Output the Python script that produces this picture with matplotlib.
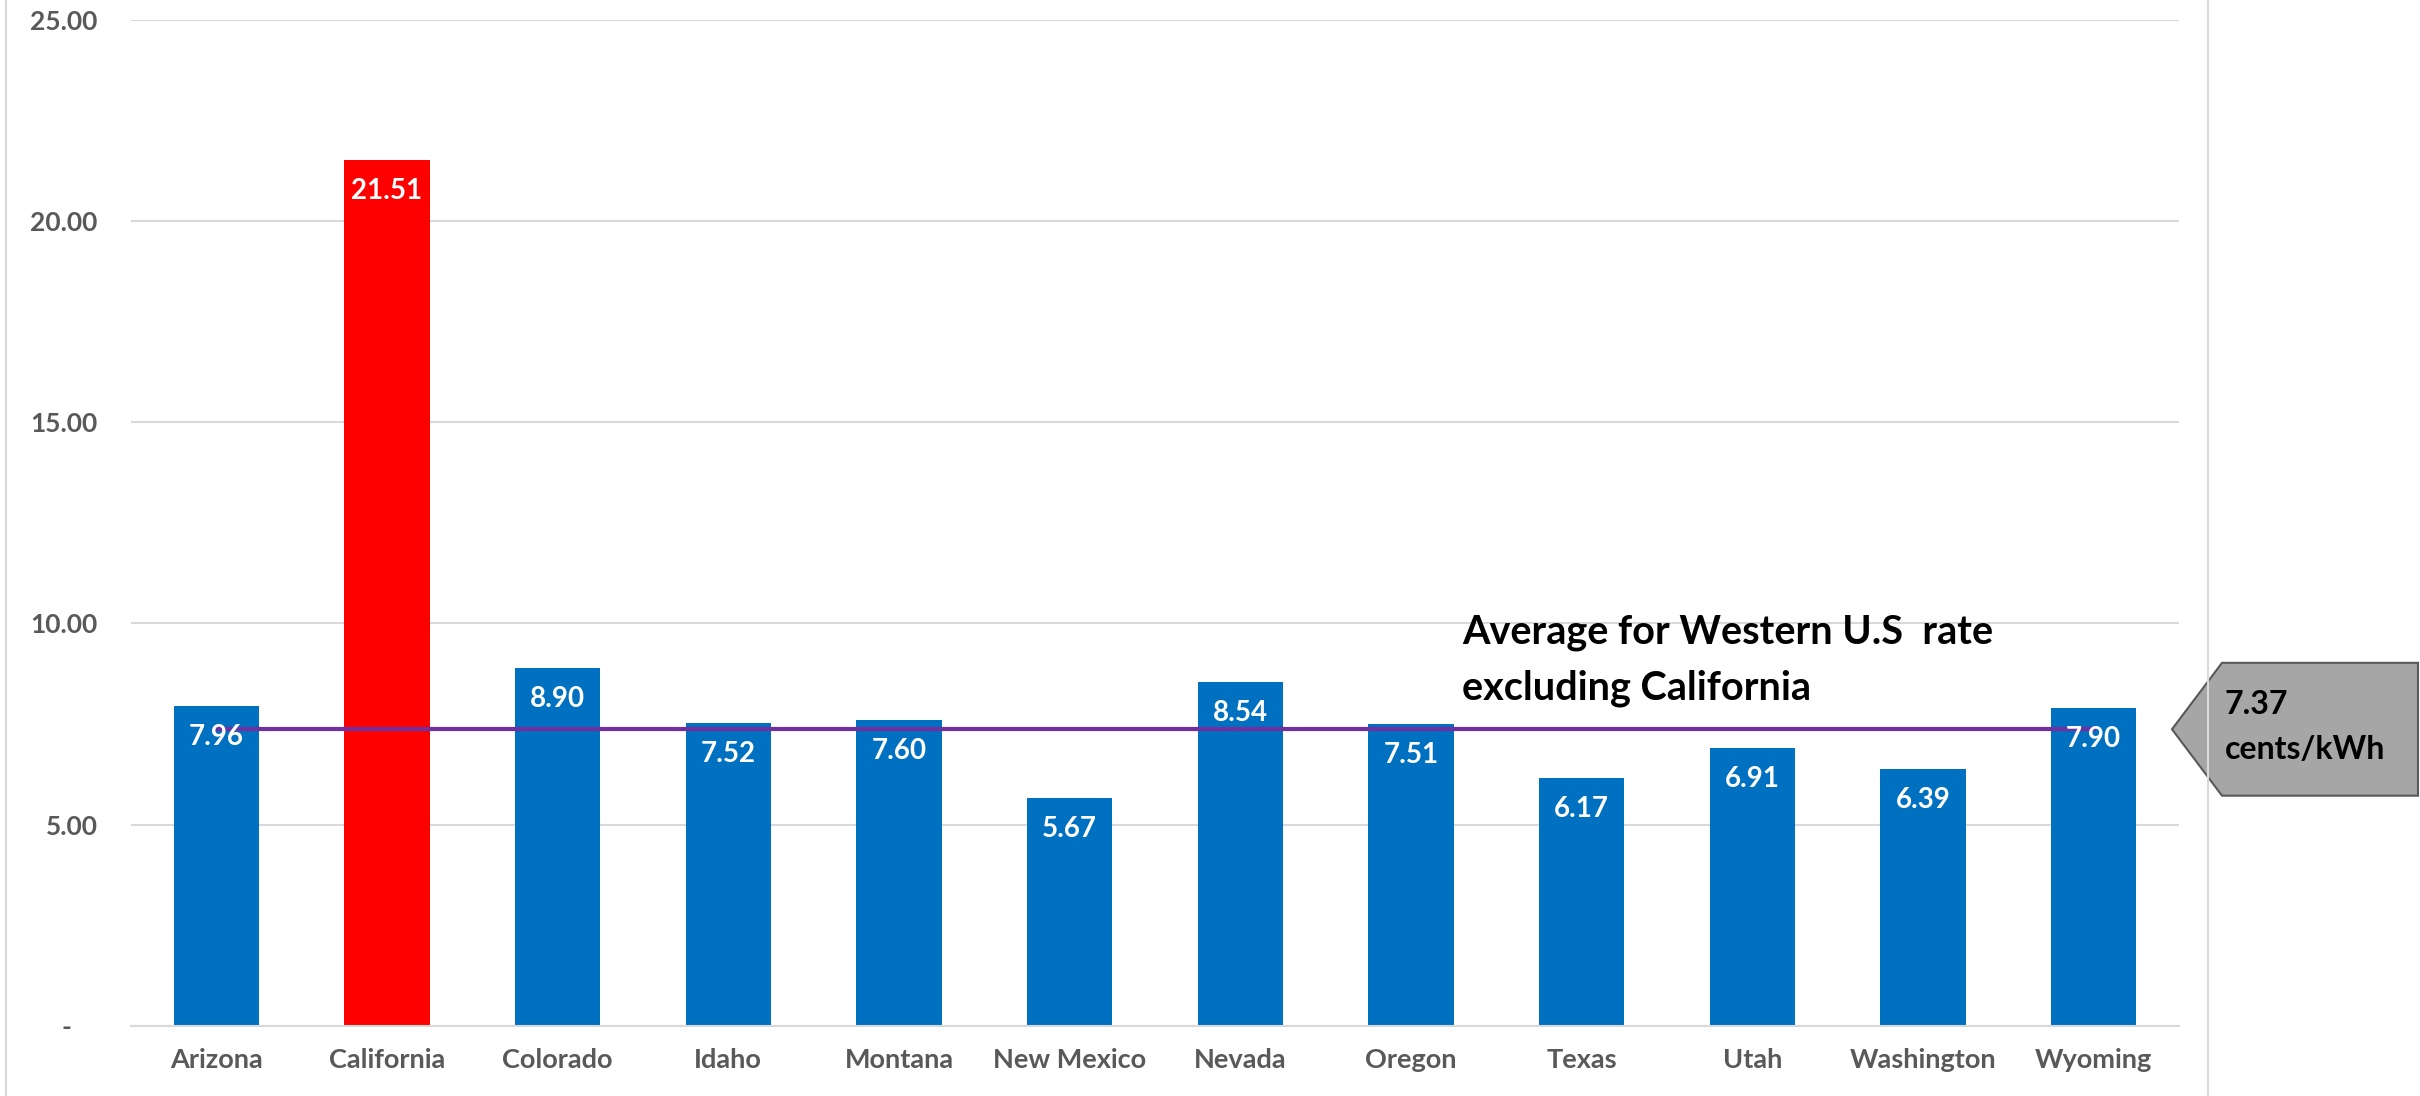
import matplotlib
matplotlib.use("Agg")
import matplotlib.pyplot as plt
from matplotlib.patches import Polygon
from matplotlib.lines import Line2D
from matplotlib.transforms import blended_transform_factory
import numpy as np

# Average electricity rate (cents/kWh) by state
states = ['Arizona', 'California', 'Colorado', 'Idaho', 'Montana', 'New Mexico',
          'Nevada', 'Oregon', 'Texas', 'Utah', 'Washington', 'Wyoming']
rates = [7.96, 21.51, 8.90, 7.52, 7.60, 5.67, 8.54, 7.51, 6.17, 6.91, 6.39, 7.90]
avg_rate = 7.37  # Western U.S. average excluding California
y_ticks = [0, 5, 10, 15, 20, 25]

plt.rcParams['font.family'] = ['Lato', 'DejaVu Sans']
plt.rcParams['font.weight'] = 'bold'

fig = plt.figure(figsize=(24.2, 10.96), dpi=100)
ax = fig.add_axes([0.0541, 0.0639, 0.9004 - 0.0541, 0.9822 - 0.0639])

x = np.arange(len(states))
colors = ['#FF0000' if s == 'California' else '#0070C0' for s in states]
ax.bar(x, rates, width=0.5, color=colors, zorder=2)

# average line runs from first to last category
ax.plot(x, [avg_rate] * len(x), color='#7030A0', linewidth=3, zorder=3)

# data labels, inside end
for xi, v in zip(x, rates):
    ax.annotate(f"{v:.2f}", xy=(xi, v), xytext=(0, -31), textcoords='offset pixels',
                ha='center', va='center', color='white', fontsize=20,
                fontweight='bold', zorder=4)

ax.set_xlim(-0.5, len(states) - 0.5)
ax.set_ylim(0, 25)
ax.set_yticks(y_ticks)
ax.set_yticklabels([f"{t:.2f}" if t else "-    " for t in y_ticks])
ax.set_xticks(x)
ax.set_xticklabels(states)
ax.tick_params(axis='y', length=0, pad=24, labelsize=19, labelcolor='#595959')
ax.tick_params(axis='x', length=0, pad=16, labelsize=19.5, labelcolor='#595959')
ax.grid(axis='y', color='#D9D9D9', linewidth=1.5, zorder=0)
ax.set_axisbelow(True)
for side in ['left', 'right', 'top']:
    ax.spines[side].set_visible(False)
ax.spines['bottom'].set_color('#D9D9D9')
ax.spines['bottom'].set_linewidth(1.5)

# annotation text
ax.text(7.30, 9.51, "Average for Western U.S  rate", fontsize=28.5, fontweight='bold',
        color='black', ha='left', va='baseline')
ax.text(7.30, 8.10, "excluding California", fontsize=28.5, fontweight='bold',
        color='black', ha='left', va='baseline')

# chart area border lines
fig.add_artist(Line2D([6 / 2420, 6 / 2420], [0, 1], color='#D9D9D9', linewidth=1.5))
fig.add_artist(Line2D([2208 / 2420, 2208 / 2420], [0, 1], color='#D9D9D9', linewidth=1.5))

# callout arrow pointing at the average line
tr = blended_transform_factory(fig.transFigure, ax.transData)
h = 1.65
tip, body, right = 2172 / 2420, 2222 / 2420, 2418 / 2420
callout = Polygon([[tip, avg_rate], [body, avg_rate + h], [right, avg_rate + h],
                   [right, avg_rate - h], [body, avg_rate - h]], closed=True,
                  facecolor='#A6A6A6', edgecolor='#595959', linewidth=1.5,
                  transform=tr, clip_on=False, zorder=5)
ax.add_patch(callout)
ax.text(2225 / 2420, avg_rate + 0.38, "7.37", transform=tr, fontsize=23,
        fontweight='bold', color='black', ha='left', va='baseline', zorder=6)
ax.text(2225 / 2420, avg_rate - 0.74, "cents/kWh", transform=tr, fontsize=23,
        fontweight='bold', color='black', ha='left', va='baseline', zorder=6)

fig.savefig("out.png", dpi=100)
